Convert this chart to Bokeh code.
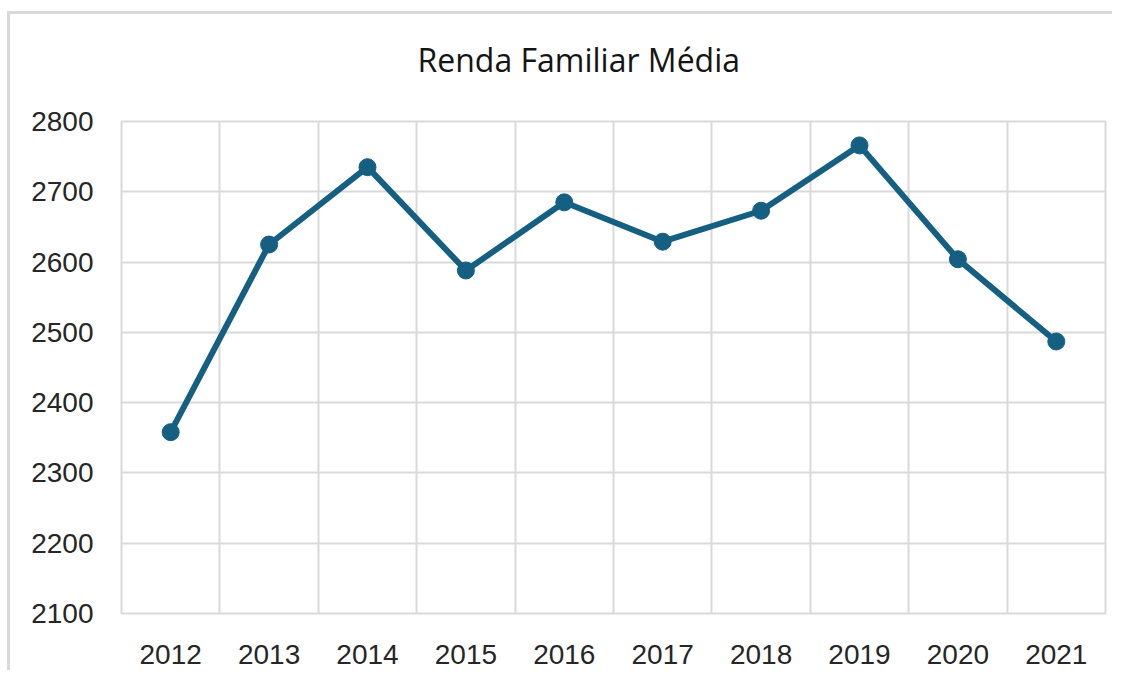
from bokeh.plotting import figure
from bokeh.models import FixedTicker, Title, Range1d
from bokeh.embed import file_html
from bokeh.resources import INLINE

years = ["2012", "2013", "2014", "2015", "2016", "2017", "2018", "2019", "2020", "2021"]
renda = [2358, 2625, 2735, 2588, 2685, 2629, 2673, 2766, 2604, 2487]
y_ticks = [2100, 2200, 2300, 2400, 2500, 2600, 2700, 2800]
title_text = "Renda Familiar Média"

xs = list(range(len(years)))
grid_col = "#d9d9d9"
line_col = "#156082"

p = figure(width=1105, height=659, output_backend="svg", toolbar_location=None,
           x_range=Range1d(-0.5, len(years) - 0.5), y_range=Range1d(2100, 2800),
           min_border_left=111, min_border_right=10, min_border_top=107, min_border_bottom=60)
p.styles = {"border-left": "3px solid #d9d9d9", "border-top": "3px solid #d9d9d9",
            "margin-top": "11px", "margin-left": "7px"}

p.outline_line_color = grid_col
p.outline_line_width = 2

p.xaxis.ticker = FixedTicker(ticks=xs)
p.xaxis.major_label_overrides = {i: y for i, y in enumerate(years)}
p.yaxis.ticker = FixedTicker(ticks=y_ticks)
for ax in (p.xaxis[0], p.yaxis[0]):
    ax.axis_line_color = None
    ax.major_tick_line_color = None
    ax.minor_tick_line_color = None
    ax.major_label_text_font = "Liberation Sans"
    ax.major_label_text_font_size = "28px"
    ax.major_label_text_color = "#262626"
p.xaxis.major_label_standoff = 25
p.yaxis.major_label_standoff = 22

p.xgrid.ticker = FixedTicker(ticks=[i - 0.5 for i in range(len(years) + 1)])
p.xgrid.grid_line_color = grid_col
p.xgrid.grid_line_width = 2
p.ygrid.ticker = FixedTicker(ticks=y_ticks)
p.ygrid.grid_line_color = grid_col
p.ygrid.grid_line_width = 2

p.line(xs, renda, line_color=line_col, line_width=6, line_join="round")
p.scatter(xs, renda, size=17, fill_color=line_col, line_color=line_col)

spacer = Title(text=" ", text_font_size="10px", standoff=26)
p.add_layout(spacer, "above")
title = Title(text=title_text, align="left", offset=296, standoff=0, vertical_align="top",
              text_font="Open Sans", text_font_size="32px", text_font_style="normal",
              text_color="#141414")
p.add_layout(title, "above")

open("out.html", "w").write(file_html(p, INLINE))
